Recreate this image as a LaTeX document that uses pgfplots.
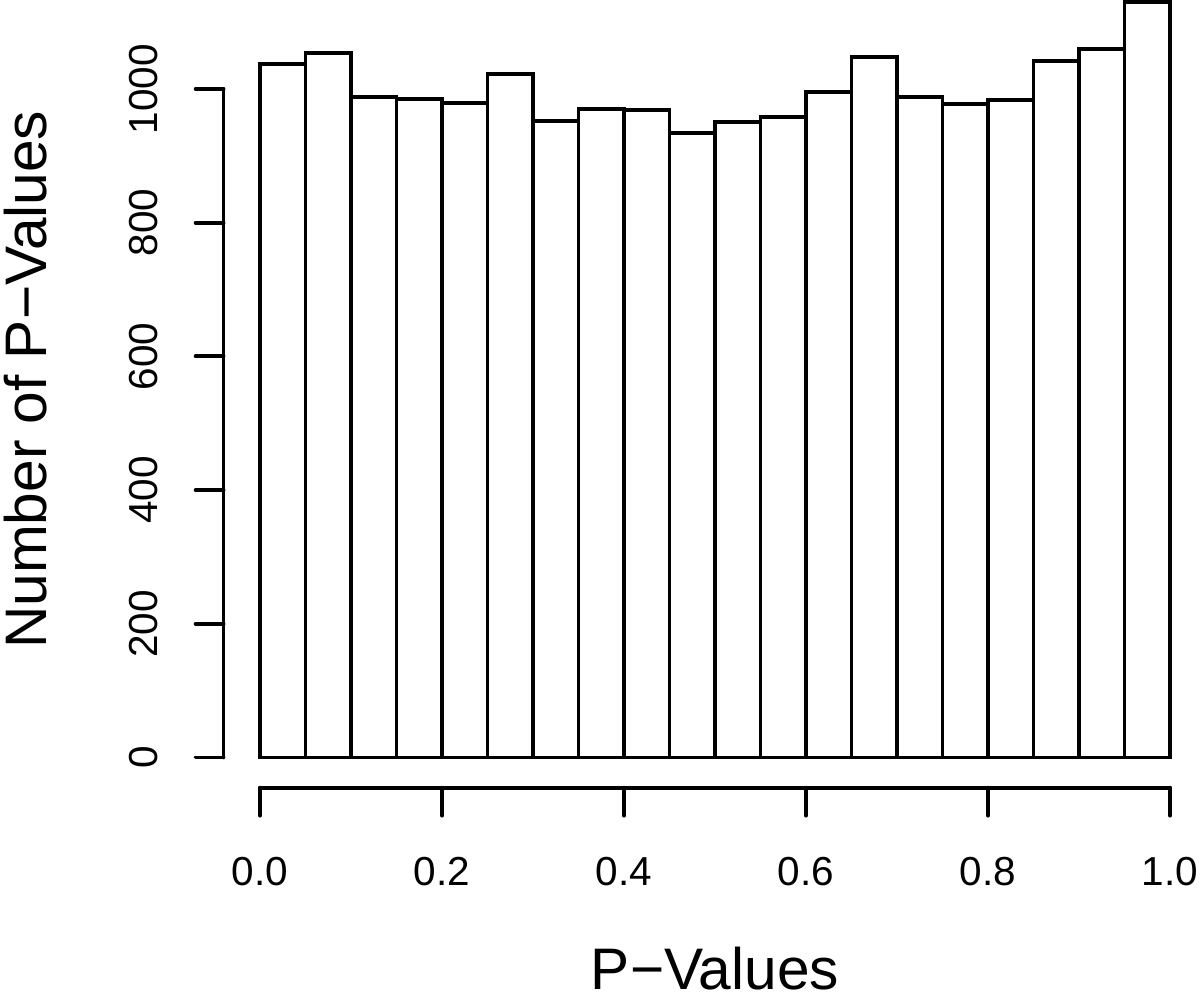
\documentclass[border=0pt]{standalone}
\usepackage{pgfplots}
\pgfplotsset{compat=1.18}
\usepackage{fontspec}
\setmainfont{Liberation Sans}
\begin{document}
\begin{tikzpicture}
\begin{axis}[
  at={(111.8pt,106.15pt)}, anchor=south west,
  scale only axis, width=491.4pt, height=407.9pt,
  xmin=-0.04, xmax=1.04, ymin=-45.2, ymax=1175.2,
  axis x line=bottom, axis y line=left,
  axis line style={draw=none},
  xtick={0,0.2,0.4,0.6,0.8,1},
  ytick={0,200,400,600,800,1000},
  tick align=outside, major tick length=14pt,
  tick style={black, line width=1.9pt, line cap=round},
  /pgf/number format/assume math mode=true,
  /pgf/number format/1000 sep={},
  xticklabel style={/pgf/number format/fixed, /pgf/number format/fixed zerofill, /pgf/number format/precision=1, anchor=base},
  yticklabel style={rotate=90, anchor=base},
  xticklabel shift=35pt, yticklabel shift=19pt,
  tick label style={font=\fontsize{20.25}{24}\selectfont},
  xlabel={P−Values}, ylabel={Number of P−Values},
  label style={font=\fontsize{29.3}{34}\selectfont},
  xlabel style={at={(axis description cs:0.5,-0.2476)}, anchor=base},
  ylabel style={at={(axis description cs:-0.1797,0.5)}, rotate=0, anchor=base},
  clip=false,
]
\addplot[ybar interval, fill=white, draw=black, line width=1.9pt] coordinates {
(0,1037) (0.05,1054) (0.1,988) (0.15,985) (0.2,979) (0.25,1022) (0.3,952) (0.35,970) (0.4,968) (0.45,934)
(0.5,951) (0.55,958) (0.6,995) (0.65,1048) (0.7,988) (0.75,977) (0.8,983) (0.85,1042) (0.9,1060) (0.95,1130) (1,1130)};
\draw[line width=1.9pt, line cap=round] (axis cs:0,-45.2) -- (axis cs:1,-45.2);
\draw[line width=1.9pt, line cap=round] (axis cs:-0.04,0) -- (axis cs:-0.04,1000);
\end{axis}
\pgfresetboundingbox
\path[use as bounding box] (0,0) rectangle (600pt,500pt);
\end{tikzpicture}
\end{document}
